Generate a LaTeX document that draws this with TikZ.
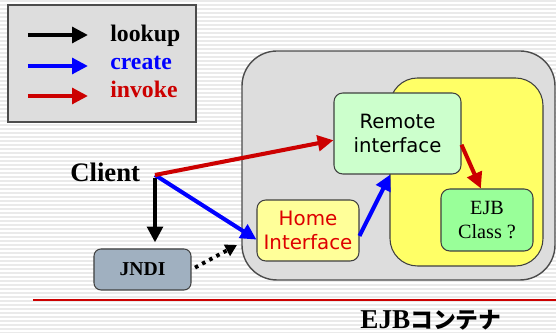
\documentclass[tikz,border=0pt]{standalone}
\usepackage{fontspec}
\setmainfont{Liberation Serif}
\newfontfamily\gothic{DejaVu Sans}
\newfontfamily\cjk{Noto Sans CJK JP}
\usetikzlibrary{arrows.meta}

\newcommand{\px}{0.02cm}
\definecolor{myred}{RGB}{204,0,0}
\definecolor{myblue}{RGB}{0,0,255}
\definecolor{boxgray}{RGB}{221,221,221}
\definecolor{stripegray}{RGB}{234,234,234}
\definecolor{beanyellow}{RGB}{255,255,102}
\definecolor{remotegreen}{RGB}{204,255,204}
\definecolor{classgreen}{RGB}{153,255,153}
\definecolor{homeyellow}{RGB}{255,255,153}
\definecolor{jndigray}{RGB}{160,176,192}

\tikzset{
  fat/.style={line width=2.3pt, -{Triangle[length=9pt,width=8.8pt]}},
  box/.style={draw=black!75, line width=0.6pt, rounded corners=5pt, inner sep=0pt, align=center},
}

\begin{document}
\begin{tikzpicture}[x=\px, y=-\px]
	\useasboundingbox (0,0) rectangle (556,333);

	% background stripes
	\foreach \y in {1,5,...,333}
		\draw [stripegray, line width=0.8pt] (0,\y) -- (556,\y);

	% legend
	\draw [draw=black!70, fill=boxgray, line width=0.6pt] (8,5) rectangle (196,122);
	\foreach \y/\b/\c/\t [count=\i] in {35/42/black/lookup, 66/70/myblue/create, 96/98/myred/invoke} {
		\draw [fat, \c] (28,\y) -- (88,\y);
		\node [anchor=base west, text=\c, inner sep=0pt, font=\fontsize{13.5}{16}\selectfont\bfseries] (leg\i) at (110,\b) {\t};
	}

	% container
	\draw [draw=black!70, fill=boxgray, line width=0.8pt, rounded corners=0.7cm] (242,51) rectangle (555,280);
	\draw [draw=black!75, fill=beanyellow, line width=0.6pt, rounded corners=0.55cm] (390,78) rectangle (543,266);

	% red rule and caption
	\draw [myred, line width=0.8pt] (33,300) -- (556,300);
	\node [font=\fontsize{15.5}{18}\selectfont\bfseries] (caption) at (431,320) {EJB{\cjk\fontsize{13}{16}\selectfont コンテナ}};

	% nodes
	\node [anchor=base west, inner sep=0pt, font=\fontsize{15.2}{18}\selectfont\bfseries] (client) at (70,182) {Client};
	\coordinate (cl) at (155,175);
	\node [box, fill=jndigray, rounded corners=4pt, minimum width=97*\px, minimum height=41*\px, font=\fontsize{11.2}{13}\selectfont\bfseries] (jndi) at (142.5,269.5) {JNDI};
	\node [box, fill=homeyellow, text=red!87!black, minimum width=102*\px, minimum height=61*\px, font=\gothic\fontsize{11.3}{13.2}\selectfont] (home) at (308,230.5) {Home\\Interface};
	\node [box, fill=remotegreen, minimum width=127*\px, minimum height=81*\px, font=\gothic\fontsize{11.2}{13.6}\selectfont] (remote) at (397.5,133.5) {Remote\\interface};
	\node [box, fill=classgreen, minimum width=92*\px, minimum height=62*\px, font=\fontsize{11.5}{13.6}\selectfont] (ejb) at (487,220) {EJB\\Class ?};

	% lookup
	\draw [fat, shorten >=0.12cm] (cl) ++(0,3) -- (cl |- jndi.north);
	\coordinate (dotend) at (237,245);
	\draw [line width=2.2pt, dash pattern=on 2pt off 2.6pt, -{Triangle[length=6.5pt,width=7pt]}, shorten <=0.08cm] (jndi.east) -- (dotend);

	% create
	\draw [fat, myblue] (cl) -- (home.190);
	\draw [fat, myblue] (home.354) -- (remote.260);

	% invoke
	\draw [fat, myred] (cl) -- (remote.186);
	\draw [fat, myred] (remote.350) -- (ejb.101);

\end{tikzpicture}
\end{document}
